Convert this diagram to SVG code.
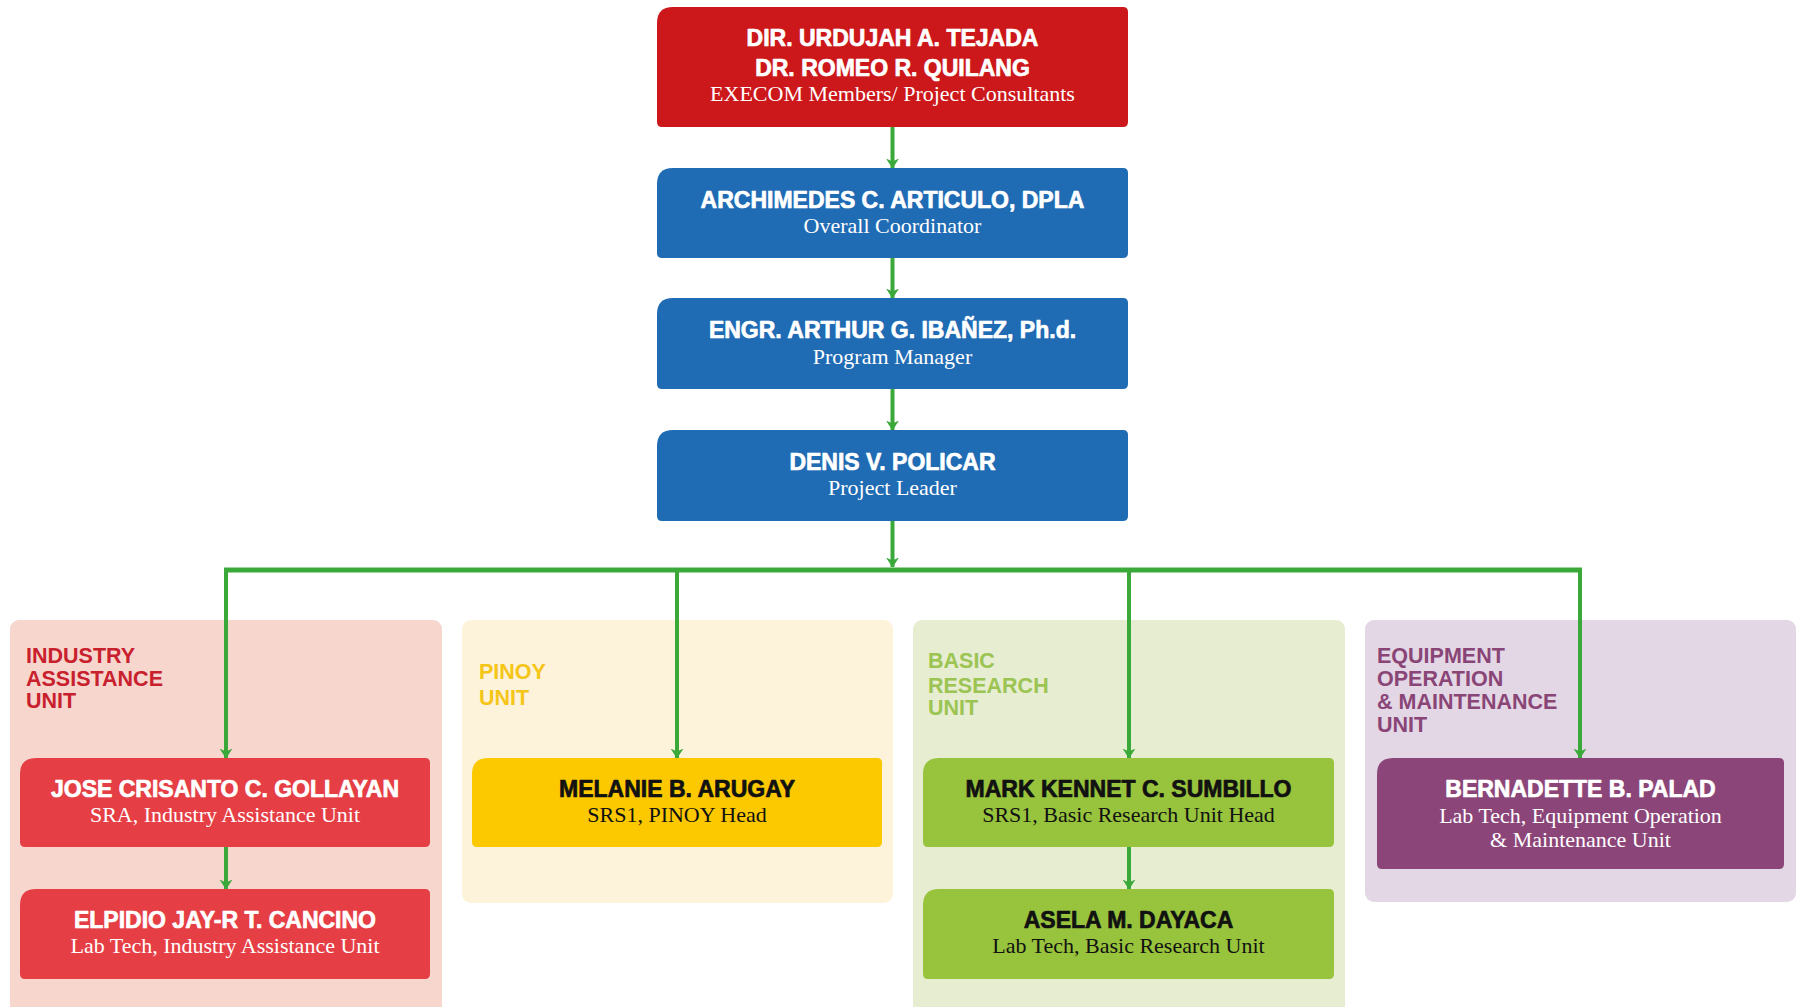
<svg xmlns="http://www.w3.org/2000/svg" width="1803" height="1007" viewBox="0 0 1803 1007">
<defs>
<style>
.name{font-family:"Liberation Sans",Arial,sans-serif;font-weight:bold;font-size:23px;text-anchor:middle;stroke-width:0.7px;stroke-linejoin:round}
.role{font-family:"Liberation Serif","Times New Roman",serif;font-size:22px;text-anchor:middle}
.w{fill:#ffffff}
.name.w{stroke:#ffffff}
.k{fill:#111111}
.name.k{stroke:#111111}
.unit{font-family:"Liberation Sans",Arial,sans-serif;font-weight:bold;font-size:21.5px}
.conn{fill:none;stroke:#3aa93a;stroke-width:4}
</style>
<marker id="arr" markerUnits="userSpaceOnUse" viewBox="0 -7 10 14" refX="9.5" refY="0" markerWidth="10" markerHeight="14" orient="auto">
<path d="M0,-6.5 L3,0 L0,6.5 L10,0 Z" fill="#3aa93a"/>
</marker>
</defs>
<rect width="1803" height="1007" fill="#ffffff"/>

<g id="panel-industry">
<rect x="10" y="620" width="432" height="400" rx="9" fill="#f6d6cd"/>
<text class="unit" fill="#c9202e"><tspan x="26" y="663">INDUSTRY</tspan><tspan x="26" y="686">ASSISTANCE</tspan><tspan x="26" y="708">UNIT</tspan></text>
</g>
<g id="panel-pinoy">
<rect x="462" y="620" width="431" height="283" rx="9" fill="#fdf3da"/>
<text class="unit" fill="#f5c518"><tspan x="479" y="679">PINOY</tspan><tspan x="479" y="705">UNIT</tspan></text>
</g>
<g id="panel-basic">
<rect x="913" y="620" width="432" height="400" rx="9" fill="#e6edd0"/>
<text class="unit" fill="#9cc452"><tspan x="928" y="668">BASIC</tspan><tspan x="928" y="693">RESEARCH</tspan><tspan x="928" y="715">UNIT</tspan></text>
</g>
<g id="panel-equipment">
<rect x="1365" y="620" width="431" height="282" rx="9" fill="#e3d7e5"/>
<text class="unit" fill="#8a4577"><tspan x="1377" y="663">EQUIPMENT</tspan><tspan x="1377" y="686">OPERATION</tspan><tspan x="1377" y="709">&amp; MAINTENANCE</tspan><tspan x="1377" y="732">UNIT</tspan></text>
</g>

<g id="connectors">
<line class="conn" x1="892.5" y1="127" x2="892.5" y2="168" marker-end="url(#arr)"/>
<line class="conn" x1="892.5" y1="258" x2="892.5" y2="298" marker-end="url(#arr)"/>
<line class="conn" x1="892.5" y1="389" x2="892.5" y2="430" marker-end="url(#arr)"/>
<line class="conn" x1="892.5" y1="521" x2="892.5" y2="567" marker-end="url(#arr)"/>
<line class="conn" x1="224" y1="570" x2="1582" y2="570" style="stroke-width:5"/>
<line class="conn" x1="226" y1="570" x2="226" y2="758" marker-end="url(#arr)"/>
<line class="conn" x1="677" y1="570" x2="677" y2="758" marker-end="url(#arr)"/>
<line class="conn" x1="1129" y1="570" x2="1129" y2="758" marker-end="url(#arr)"/>
<line class="conn" x1="1580" y1="570" x2="1580" y2="758" marker-end="url(#arr)"/>
<line class="conn" x1="226" y1="847" x2="226" y2="889" marker-end="url(#arr)"/>
<line class="conn" x1="1129" y1="847" x2="1129" y2="889" marker-end="url(#arr)"/>
</g>

<g id="execom">
<path d="M673,7 H1123 Q1128,7 1128,12 V122 Q1128,127 1123,127 H662 Q657,127 657,122 V23 Q657,7 673,7 Z" fill="#cc181b"/>
<text class="name w" x="892.5" y="46">DIR. URDUJAH A. TEJADA</text>
<text class="name w" x="892.5" y="76">DR. ROMEO R. QUILANG</text>
<text class="role w" x="892.5" y="101">EXECOM Members/ Project Consultants</text>
</g>
<g id="coordinator">
<path d="M673,168 H1123 Q1128,168 1128,173 V253 Q1128,258 1123,258 H662 Q657,258 657,253 V184 Q657,168 673,168 Z" fill="#1f6bb4"/>
<text class="name w" x="892.5" y="208">ARCHIMEDES C. ARTICULO, DPLA</text>
<text class="role w" x="892.5" y="233">Overall Coordinator</text>
</g>
<g id="program-manager">
<path d="M673,298 H1123 Q1128,298 1128,303 V384 Q1128,389 1123,389 H662 Q657,389 657,384 V314 Q657,298 673,298 Z" fill="#1f6bb4"/>
<text class="name w" x="892.5" y="338">ENGR. ARTHUR G. IBAÑEZ, Ph.d.</text>
<text class="role w" x="892.5" y="364">Program Manager</text>
</g>
<g id="project-leader">
<path d="M673,430 H1123 Q1128,430 1128,435 V516 Q1128,521 1123,521 H662 Q657,521 657,516 V446 Q657,430 673,430 Z" fill="#1f6bb4"/>
<text class="name w" x="892.5" y="470">DENIS V. POLICAR</text>
<text class="role w" x="892.5" y="495">Project Leader</text>
</g>

<g id="gollayan">
<path d="M36,758 H425 Q430,758 430,763 V842 Q430,847 425,847 H25 Q20,847 20,842 V774 Q20,758 36,758 Z" fill="#e53e45"/>
<text class="name w" x="225" y="797">JOSE CRISANTO C. GOLLAYAN</text>
<text class="role w" x="225" y="822">SRA, Industry Assistance Unit</text>
</g>
<g id="cancino">
<path d="M36,889 H425 Q430,889 430,894 V974 Q430,979 425,979 H25 Q20,979 20,974 V905 Q20,889 36,889 Z" fill="#e53e45"/>
<text class="name w" x="225" y="928">ELPIDIO JAY-R T. CANCINO</text>
<text class="role w" x="225" y="953">Lab Tech, Industry Assistance Unit</text>
</g>
<g id="arugay">
<path d="M488,758 H877 Q882,758 882,763 V842 Q882,847 877,847 H477 Q472,847 472,842 V774 Q472,758 488,758 Z" fill="#fcc800"/>
<text class="name k" x="677" y="797">MELANIE B. ARUGAY</text>
<text class="role k" x="677" y="822">SRS1, PINOY Head</text>
</g>
<g id="sumbillo">
<path d="M939,758 H1329 Q1334,758 1334,763 V842 Q1334,847 1329,847 H928 Q923,847 923,842 V774 Q923,758 939,758 Z" fill="#98c33d"/>
<text class="name k" x="1128.5" y="797">MARK KENNET C. SUMBILLO</text>
<text class="role k" x="1128.5" y="822">SRS1, Basic Research Unit Head</text>
</g>
<g id="dayaca">
<path d="M939,889 H1329 Q1334,889 1334,894 V974 Q1334,979 1329,979 H928 Q923,979 923,974 V905 Q923,889 939,889 Z" fill="#98c33d"/>
<text class="name k" x="1128.5" y="928">ASELA M. DAYACA</text>
<text class="role k" x="1128.5" y="953">Lab Tech, Basic Research Unit</text>
</g>
<g id="palad">
<path d="M1393,758 H1779 Q1784,758 1784,763 V864 Q1784,869 1779,869 H1382 Q1377,869 1377,864 V774 Q1377,758 1393,758 Z" fill="#8b4578"/>
<text class="name w" x="1580.5" y="797">BERNADETTE B. PALAD</text>
<text class="role w" x="1580.5" y="823">Lab Tech, Equipment Operation</text>
<text class="role w" x="1580.5" y="847">&amp; Maintenance Unit</text>
</g>
</svg>
